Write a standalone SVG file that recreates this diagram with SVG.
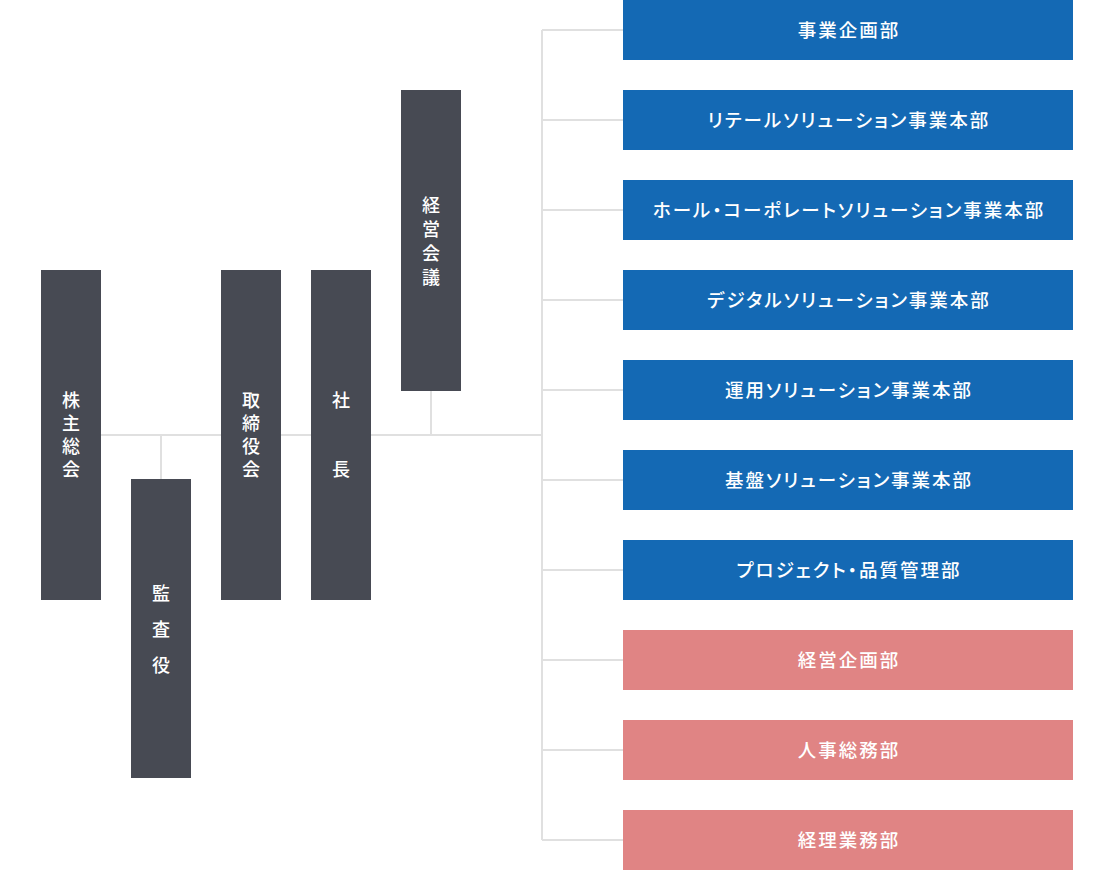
<svg xmlns="http://www.w3.org/2000/svg" width="1120" height="870" viewBox="0 0 1120 870">
<style>
.dk{fill:#474a53}
.bl{fill:#1469b4}
.pk{fill:#e08484}
.t{font-family:"Noto Sans CJK JP","Noto Sans",sans-serif;font-size:18px;font-weight:500;fill:#fff;text-anchor:middle}
.r{font-size:18.5px;letter-spacing:2px;font-feature-settings:"palt"}
.v{writing-mode:vertical-rl}
.ln{stroke:#e0e0e0;stroke-width:2;fill:none}
</style>
<rect width="1120" height="870" fill="#fff"/>
<g id="connectors">
<path class="ln" d="M101 435H542M161 435V479M431 391V435M542 30V840"/>
<path class="ln" d="M542 30H623M542 120H623M542 210H623M542 300H623M542 390H623M542 480H623M542 570H623M542 660H623M542 750H623M542 840H623"/>
</g>
<g id="n-kabunushi"><rect class="dk" x="41" y="270" width="60" height="330"/>
<text class="t v" x="71" y="437" style="letter-spacing:5px">株主総会</text></g>
<g id="n-kansayaku"><rect class="dk" x="131" y="479" width="60" height="299"/>
<text class="t v" x="161" y="638" style="letter-spacing:18px">監査役</text></g>
<g id="n-torishimariyakukai"><rect class="dk" x="221" y="270" width="60" height="330"/>
<text class="t v" x="251" y="437" style="letter-spacing:5px">取締役会</text></g>
<g id="n-shacho"><rect class="dk" x="311" y="270" width="60" height="330"/>
<text class="t v" x="341" y="437" style="letter-spacing:5px">社　　長</text></g>
<g id="n-keieikaigi"><rect class="dk" x="401" y="90" width="60" height="301"/>
<text class="t v" x="431" y="244" style="letter-spacing:6px">経営会議</text></g>
<g id="d1"><rect class="bl" x="623" y="0" width="450" height="60"/><text class="t r" x="849" y="36.5">事業企画部</text></g>
<g id="d2"><rect class="bl" x="623" y="90" width="450" height="60"/><text class="t r" x="849" y="126.5">リテールソリューション事業本部</text></g>
<g id="d3"><rect class="bl" x="623" y="180" width="450" height="60"/><text class="t r" x="849" y="216.5">ホール・コーポレートソリューション事業本部</text></g>
<g id="d4"><rect class="bl" x="623" y="270" width="450" height="60"/><text class="t r" x="849" y="306.5">デジタルソリューション事業本部</text></g>
<g id="d5"><rect class="bl" x="623" y="360" width="450" height="60"/><text class="t r" x="849" y="396.5">運用ソリューション事業本部</text></g>
<g id="d6"><rect class="bl" x="623" y="450" width="450" height="60"/><text class="t r" x="849" y="486.5">基盤ソリューション事業本部</text></g>
<g id="d7"><rect class="bl" x="623" y="540" width="450" height="60"/><text class="t r" x="849" y="576.5">プロジェクト・品質管理部</text></g>
<g id="d8"><rect class="pk" x="623" y="630" width="450" height="60"/><text class="t r" x="849" y="666.5">経営企画部</text></g>
<g id="d9"><rect class="pk" x="623" y="720" width="450" height="60"/><text class="t r" x="849" y="756.5">人事総務部</text></g>
<g id="d10"><rect class="pk" x="623" y="810" width="450" height="60"/><text class="t r" x="849" y="846.5">経理業務部</text></g>
</svg>
